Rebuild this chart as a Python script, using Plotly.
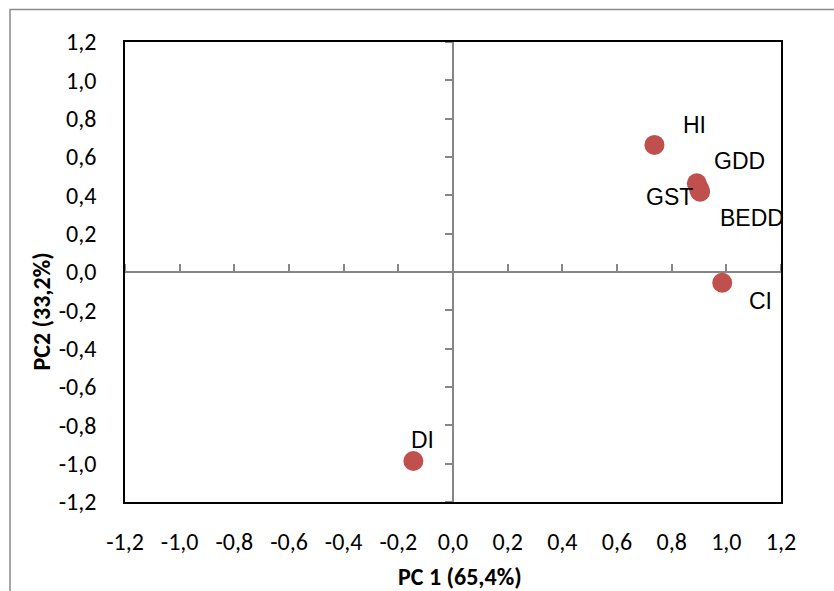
import plotly.graph_objects as go

# Data
labels = ["HI", "GDD", "GST", "BEDD", "CI", "DI"]
pc1 = [0.737, 0.892, 0.900, 0.904, 0.985, -0.145]
pc2 = [0.663, 0.463, 0.435, 0.419, -0.056, -0.986]
# label offsets in pixels (style): (xshift, yshift)
label_shift = {"HI": (40, 20), "GDD": (43, 22), "GST": (-30, -8),
               "BEDD": (52, -26), "CI": (38, -18), "DI": (9, 21)}

tick_vals = [round(-1.2 + 0.2 * i, 1) for i in range(13)]
tick_text = [("%.1f" % v).replace(".", ",") for v in tick_vals]

x_title = "PC 1 (65,4%)"
y_title = "PC2 (33,2%)"

RED = "#C0504D"
GRAY = "#868686"
TICKFONT = dict(family="Carlito, Lato, sans-serif", size=24, color="#000")
TITLEFONT = dict(family="Carlito, Lato, sans-serif", size=24, color="#000")

fig = go.Figure()
fig.add_trace(go.Scatter(x=pc1, y=pc2, mode="markers",
                         marker=dict(color=RED, size=20, line=dict(width=0)),
                         hoverinfo="text", text=labels, showlegend=False,
                         xaxis="x", yaxis="y"))
# invisible trace to bind the crossing axes
fig.add_trace(go.Scatter(x=pc1, y=pc2, mode="markers",
                         marker=dict(opacity=0, size=1), hoverinfo="skip",
                         showlegend=False, xaxis="x2", yaxis="y2"))

for lab, x, y in zip(labels, pc1, pc2):
    dx, dy = label_shift[lab]
    fig.add_annotation(x=x, y=y, text=lab, showarrow=False, xshift=dx, yshift=dy,
                       font=dict(family="Liberation Sans, Arial, sans-serif", size=23, color="#000"))

# axis titles (placed as in the reference, y title sits below the plot centre)
fig.add_annotation(xref="paper", yref="paper", x=(460 - 125) / 656, y=(502 - 576) / 460,
                   text="<b>" + x_title + "</b>", showarrow=False, font=TITLEFONT,
                   xanchor="center", yanchor="middle")
fig.add_annotation(xref="paper", yref="paper", x=(41 - 125) / 656, y=(502 - 311.5) / 460,
                   text="<b>" + y_title + "</b>", showarrow=False, font=TITLEFONT,
                   textangle=-90, xanchor="center", yanchor="middle")

rng = [-1.2, 1.2]
fig.update_layout(
    width=834, height=591,
    margin=dict(l=125, r=53, t=42, b=89),
    paper_bgcolor="white", plot_bgcolor="white",
    xaxis=dict(range=rng, tickvals=tick_vals, ticktext=tick_text, showgrid=False,
               zeroline=False, showline=True, mirror=True, linecolor="#000", linewidth=1.5,
               ticks="", ticklabelstandoff=17, tickfont=TICKFONT),
    yaxis=dict(range=rng, tickvals=tick_vals, ticktext=tick_text, showgrid=False,
               zeroline=False, showline=True, mirror=True, linecolor="#000", linewidth=1.5,
               ticks="", ticklabelstandoff=22, tickfont=TICKFONT),
    xaxis2=dict(range=rng, overlaying="x", anchor="free", position=0.5, side="top",
                tickvals=tick_vals, showticklabels=False, ticks="outside", ticklen=7,
                tickwidth=1.5, tickcolor=GRAY, showline=True, linecolor=GRAY, linewidth=1.5,
                showgrid=False, zeroline=False, layer="below traces"),
    yaxis2=dict(range=rng, overlaying="y", anchor="free", position=0.5, side="left",
                tickvals=tick_vals, showticklabels=False, ticks="outside", ticklen=7,
                tickwidth=1.5, tickcolor=GRAY, showline=True, linecolor=GRAY, linewidth=1.5,
                showgrid=False, zeroline=False, layer="below traces"),
)

# outer chart-area border (extends past the image on the right and bottom)
fig.add_shape(type="rect", xref="paper", yref="paper",
              x0=(10 - 125) / 656, x1=(845 - 125) / 656,
              y0=(502 - 600) / 460, y1=(502 - 9.5) / 460,
              line=dict(color="#8c8c8c", width=1.5), fillcolor="rgba(0,0,0,0)", layer="below")

fig.write_html("out.html")
